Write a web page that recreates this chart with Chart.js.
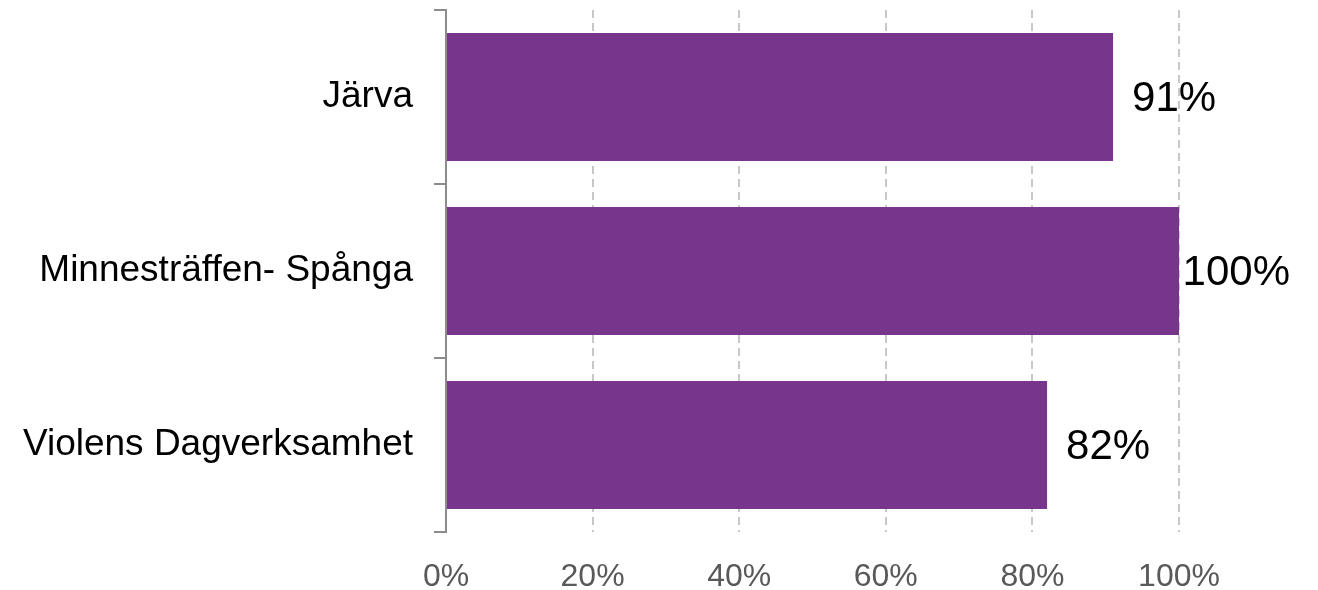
<!DOCTYPE html>
<html>
<head>
<meta charset="utf-8">
<script src="https://cdn.jsdelivr.net/npm/chart.js@4/dist/chart.umd.min.js"></script>
<style>
  html, body { margin: 0; padding: 0; background: #ffffff; }
  #wrap { width: 1318px; height: 590px; position: relative; }
</style>
</head>
<body>
<div id="wrap"><canvas id="c" width="1318" height="590"></canvas></div>
<script>
const categories = ["Järva", "Minnesträffen- Spånga", "Violens Dagverksamhet"];
const values = [91, 100, 82];
const xTickValues = [0, 20, 40, 60, 80, 100];
const xTickLabels = ["0%", "20%", "40%", "60%", "80%", "100%"];

const FONT = "'Liberation Sans', Arial, sans-serif";
const BAR_COLOR = "#77368B";

const valueLabels = {
  id: "valueLabels",
  afterDatasetsDraw(chart) {
    const ctx = chart.ctx;
    const meta = chart.getDatasetMeta(0);
    ctx.save();
    ctx.font = "42px " + FONT;
    ctx.fillStyle = "#000000";
    ctx.textBaseline = "middle";
    ctx.textAlign = "left";
    meta.data.forEach((bar, i) => {
      const txt = values[i] + "%";
      const w = ctx.measureText(txt).width;
      let x = bar.x + 19;
      const maxRight = chart.width - 28;
      if (x + w > maxRight) x = maxRight - w;
      ctx.fillText(txt, x, bar.y + 2);
    });
    ctx.restore();
  }
};

new Chart(document.getElementById("c"), {
  type: "bar",
  data: {
    labels: categories,
    datasets: [{
      data: values,
      backgroundColor: BAR_COLOR,
      borderWidth: 0,
      barPercentage: 0.736,
      categoryPercentage: 1.0
    }]
  },
  options: {
    indexAxis: "y",
    responsive: false,
    animation: false,
    devicePixelRatio: 1,
    layout: { padding: { top: 10, right: 139, bottom: 0, left: 0 } },
    plugins: {
      legend: { display: false },
      tooltip: { enabled: false }
    },
    scales: {
      x: {
        min: 0,
        max: 100,
        afterBuildTicks(scale) {
          scale.ticks = xTickValues.map(v => ({ value: v }));
        },
        afterFit(scale) {
          scale.height = 58;
          scale.paddingLeft = 0;
          scale.paddingRight = 0;
        },
        border: { display: false, dash: [8, 5] },
        grid: {
          drawTicks: false,
          lineWidth: 2,
          color: (c) => (c.tick && c.tick.value === 0) ? "rgba(0,0,0,0)" : "#c8c8c8"
        },
        ticks: {
          padding: 26,
          color: "#595959",
          font: { family: FONT, size: 32 },
          callback: (v, i) => xTickLabels[i]
        }
      },
      y: {
        afterFit(scale) {
          scale.width = 446;
          scale.paddingTop = 0;
          scale.paddingBottom = 0;
        },
        border: { display: true, color: "#8c8c8c", width: 2 },
        grid: {
          drawOnChartArea: false,
          drawTicks: true,
          tickLength: 12,
          color: "#8c8c8c",
          lineWidth: 2,
          offset: true
        },
        ticks: {
          padding: 21,
          color: "#000000",
          font: { family: FONT, size: 37 }
        }
      }
    }
  },
  plugins: [valueLabels]
});
</script>
</body>
</html>
